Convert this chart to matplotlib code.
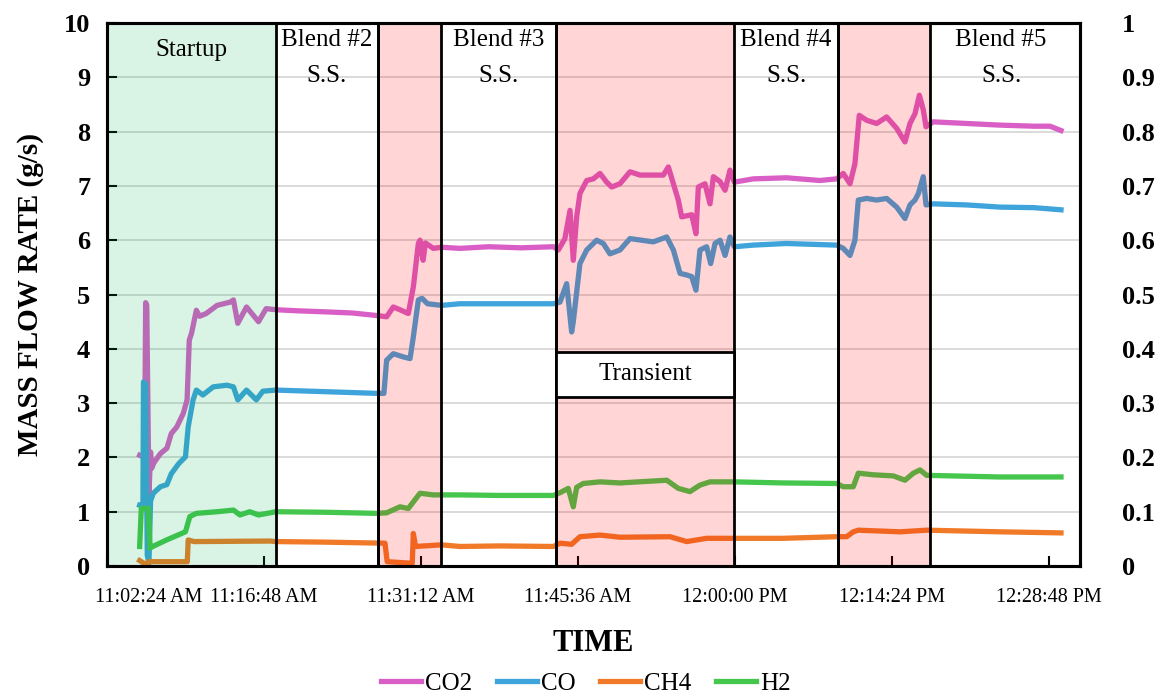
import matplotlib
matplotlib.use('Agg')
import matplotlib.pyplot as plt
import matplotlib.transforms as mtransforms
from matplotlib.patches import Rectangle

plt.rcParams['font.family'] = ['Liberation Serif', 'DejaVu Serif']

# time axis: minutes after 11:02:24 AM
tick_pos = [0, 14.4, 28.8, 43.2, 57.6, 72.0, 86.4]
tick_labels = ['11:02:24 AM', '11:16:48 AM', '11:31:12 AM', '11:45:36 AM',
               '12:00:00 PM', '12:14:24 PM', '12:28:48 PM']

# test phases (start, end) in minutes
startup = (0, 15.5)
transient_phases = [(24.86, 30.63), (41.18, 57.51), (67.05, 75.49)]
steady_phases = [(15.5, 24.86, 'Blend #2'), (30.63, 41.18, 'Blend #3'),
                 (57.51, 67.05, 'Blend #4'), (75.49, 89.24, 'Blend #5')]

co2_t = [3.0, 3.45, 3.55, 3.65, 3.85, 4.0, 4.1, 4.3, 4.9, 5.5, 5.9, 6.4, 7.0, 7.35, 7.55,
         7.75, 8.2, 8.5, 9.1, 10.1, 11.3, 11.6, 12.0, 12.8, 13.9, 14.6, 15.5,
         17.5, 20.15, 22.5, 24.43, 25.65, 26.26, 26.87, 27.64, 28.1, 28.56, 28.71, 29.0,
         29.2, 29.93, 30.69, 32.37, 35.0, 38.0, 40.94, 41.4, 42.0, 42.47, 42.77, 43.08,
         43.38, 44.0, 44.6, 45.22, 45.83, 46.29, 47.05, 47.97, 48.89, 50.11, 51.03, 51.49,
         51.95, 52.4, 52.71, 53.17, 53.63, 54.02, 54.24, 54.85, 55.31, 55.62, 56.23, 56.69,
         57.14, 57.54, 59.28, 62.33, 65.38, 66.92, 67.53, 68.15, 68.6, 69.0, 69.67, 70.59,
         71.51, 72.43, 73.19, 73.65, 74.11, 74.51, 74.87, 75.12, 75.79, 78.85, 81.9, 85.0,
         86.5, 87.5]
co2_v = [2.04, 2.0, 4.85, 4.8, 1.3, 2.1, 1.8, 1.9, 2.07, 2.17, 2.44, 2.56, 2.81, 3.06, 4.16,
         4.28, 4.71, 4.6, 4.65, 4.8, 4.86, 4.9, 4.47, 4.77, 4.5, 4.74, 4.72,
         4.7, 4.68, 4.66, 4.62, 4.59, 4.77, 4.72, 4.65, 5.14, 5.94, 6.0, 5.63,
         5.95, 5.85, 5.87, 5.85, 5.88, 5.86, 5.88, 5.82, 6.03, 6.55, 5.63, 6.43,
         6.86, 7.1, 7.13, 7.23, 7.07, 6.98, 7.04, 7.26, 7.2, 7.2, 7.2, 7.35,
         7.04, 6.74, 6.43, 6.45, 6.47, 6.12, 6.98, 7.04, 6.67, 7.17, 7.08, 6.92,
         7.29, 7.07, 7.13, 7.15, 7.1, 7.13, 7.23, 7.04, 7.41, 8.3, 8.21, 8.15,
         8.27, 8.06, 7.81, 8.15, 8.33, 8.67, 8.4, 8.09, 8.18, 8.15, 8.12, 8.1,
         8.1, 8.02]

co_t = [3.0, 3.3, 3.35, 3.55, 3.7, 3.85, 4.0, 4.25, 4.9, 5.5, 5.9, 6.6, 7.2, 7.45, 7.9,
        8.2, 8.8, 9.75, 11.0, 11.6, 12.0, 12.8, 13.7, 14.3, 15.5,
        20.15, 24.7, 25.4, 25.65, 26.26, 27.2, 27.8, 28.1, 28.56, 28.9, 29.4, 30.69, 32.37,
        36.0, 40.94, 41.55, 42.16, 42.62, 42.77, 43.38, 44.0, 44.91, 45.52, 46.13, 47.05,
        47.97, 50.11, 51.34, 51.95, 52.56, 53.17, 53.63, 54.02, 54.39, 55.0, 55.37, 55.77,
        56.23, 56.69, 57.14, 57.54, 59.28, 62.33, 65.38, 66.92, 67.53, 68.15, 68.6, 68.91,
        69.67, 70.59, 71.51, 72.43, 73.19, 73.65, 74.11, 74.42, 74.87, 75.12, 75.79, 78.85,
        81.9, 85.0, 87.5]
co_v = [1.12, 1.1, 3.39, 3.35, 0.2, 0.05, 1.2, 1.34, 1.46, 1.5, 1.7, 1.89, 2.01, 2.56, 3.06,
        3.24, 3.15, 3.3, 3.33, 3.3, 3.06, 3.24, 3.06, 3.22, 3.24,
        3.21, 3.18, 3.18, 3.79, 3.91, 3.85, 3.82, 4.22, 4.9, 4.93, 4.83, 4.8, 4.83,
        4.83, 4.83, 4.86, 5.2, 4.31, 4.5, 5.57, 5.82, 6.0, 5.94, 5.75, 5.82,
        6.03, 5.97, 6.06, 5.82, 5.39, 5.36, 5.33, 5.08, 5.82, 5.88, 5.57, 5.94,
        6.0, 5.72, 6.06, 5.88, 5.91, 5.94, 5.92, 5.91, 5.85, 5.72, 6.0, 6.74,
        6.77, 6.74, 6.77, 6.61, 6.4, 6.65, 6.74, 6.86, 7.17, 6.65, 6.67, 6.65,
        6.61, 6.6, 6.56]

ch4_t = [3.0, 3.4, 3.6, 3.8, 7.37, 7.45, 8.0, 15.0, 15.5, 20.0, 25.5, 25.7, 28.0, 28.1, 28.3,
         30.69, 32.37, 36.0, 40.94, 41.55, 42.62, 43.38, 45.22, 47.05, 51.64, 53.17, 55.0,
         57.54, 62.0, 66.92, 67.84, 68.45, 68.91, 72.73, 75.18, 81.9, 87.5]
ch4_v = [0.1, 0.05, 0.0, 0.08, 0.08, 0.48, 0.45, 0.46, 0.45, 0.44, 0.42, 0.08, 0.05, 0.6, 0.36,
         0.39, 0.36, 0.37, 0.36, 0.42, 0.4, 0.54, 0.57, 0.53, 0.54, 0.45, 0.51,
         0.51, 0.51, 0.54, 0.54, 0.63, 0.66, 0.63, 0.66, 0.63, 0.61]

h2_t = [3.0, 3.15, 3.8, 3.95, 4.2, 5.47, 7.2, 7.6, 8.2, 10.1, 11.6, 12.2, 13.1, 13.9, 15.5,
        20.0, 24.7, 25.65, 26.87, 27.64, 28.71, 29.93, 32.37, 36.0, 40.94, 41.55, 42.31,
        42.77, 43.08, 43.69, 45.22, 47.05, 51.34, 52.4, 53.47, 54.39, 55.31, 57.54, 62.0,
        66.92, 67.53, 68.45, 68.91, 70.29, 72.12, 73.19, 73.96, 74.57, 75.18, 81.9, 87.5]
h2_v = [0.36, 1.06, 1.06, 0.33, 0.36, 0.48, 0.63, 0.91, 0.97, 1.0, 1.03, 0.94, 1.0, 0.94, 1.0,
        0.99, 0.97, 0.98, 1.09, 1.06, 1.34, 1.31, 1.31, 1.3, 1.3, 1.35, 1.43,
        1.09, 1.45, 1.52, 1.55, 1.53, 1.58, 1.43, 1.37, 1.49, 1.55, 1.55, 1.53,
        1.52, 1.46, 1.46, 1.71, 1.68, 1.66, 1.58, 1.71, 1.77, 1.67, 1.64, 1.64]

fig = plt.figure(figsize=(11.6, 7), dpi=100)
ax = fig.add_axes([0.0922, 0.1914, 0.8388, 0.7757])

ax.plot(co2_t, co2_v, color='#d95fc6', lw=3.8, label='CO2', zorder=2)
ax.plot(co_t, co_v, color='#3fa4dc', lw=3.8, label='CO', zorder=2)
ax.plot(ch4_t, ch4_v, color='#f07a28', lw=3.8, label='CH4', zorder=2)
ax.plot(h2_t, h2_v, color='#45c64c', lw=3.8, label='H2', zorder=2)

# shaded phases lie over the traces
ax.axvspan(startup[0], startup[1], facecolor=(0, 0.69, 0.31, 0.15), edgecolor='black',
           lw=2.0, zorder=3)
for a, b in transient_phases:
    ax.axvspan(a, b, facecolor=(1, 0, 0, 0.165), edgecolor='black', lw=2.0, zorder=3)
for a, b, name in steady_phases[:-1]:
    ax.axvline(b, color='black', lw=2.0, zorder=3)

ax.add_patch(Rectangle((41.18, 3.12), 57.51 - 41.18, 0.82, facecolor='white',
                       edgecolor='black', lw=2.0, zorder=4))
ax.text((41.18 + 57.51) / 2, 3.53, 'Transient', ha='center', va='center', fontsize=18, zorder=5)

ax.text(7.75, 9.5, 'Startup', ha='center', va='center', fontsize=18, zorder=5)
for a, b, name in steady_phases:
    c = (a + b) / 2
    if name == 'Blend #5':
        c = 82.0
    ax.text(c, 9.69, name, ha='center', va='center', fontsize=18, zorder=5)
    ax.text(c, 9.03, 'S.S.', ha='center', va='center', fontsize=18, zorder=5)

ax.set_xlim(0, 89.24)
ax.set_ylim(0, 10)
ax.set_yticks(range(0, 11))
ax.set_xticks(tick_pos)
ax.set_xticklabels(tick_labels, fontsize=14.5)
ax.grid(True, axis='y', color='#d4d4d4', lw=1.2)
ax.tick_params(axis='y', direction='in', length=7, width=1.5, pad=12, labelsize=19)
ax.tick_params(axis='x', direction='in', length=7, width=1.5, pad=16)
for lab in ax.get_yticklabels():
    lab.set_fontweight('bold')
off = mtransforms.ScaledTranslation(0.42, 0, fig.dpi_scale_trans)
first = ax.get_xticklabels()[0]
first.set_transform(first.get_transform() + off)

for s in ax.spines.values():
    s.set_linewidth(2.2)
    s.set_color('black')
    s.set_zorder(6)

ax.set_ylabel('MASS FLOW RATE (g/s)', fontsize=21, fontweight='bold', labelpad=14)
ax.set_xlabel('TIME', fontsize=22, fontweight='bold', labelpad=16)

ax2 = ax.twinx()
ax2.set_ylim(0, 1)
ax2.set_yticks([i / 10 for i in range(11)])
ax2.set_yticklabels(['0', '0.1', '0.2', '0.3', '0.4', '0.5', '0.6', '0.7', '0.8', '0.9', '1'],
                    fontsize=19, fontweight='bold')
ax2.tick_params(axis='y', length=0, pad=30)
for s in ax2.spines.values():
    s.set_linewidth(2.2)

fig.legend(loc='lower center', bbox_to_anchor=(0.505, -0.025), ncol=4, frameon=False,
           fontsize=18, handlelength=1.6, handletextpad=0.15, columnspacing=1.0)

fig.savefig('out.png', dpi=100)
